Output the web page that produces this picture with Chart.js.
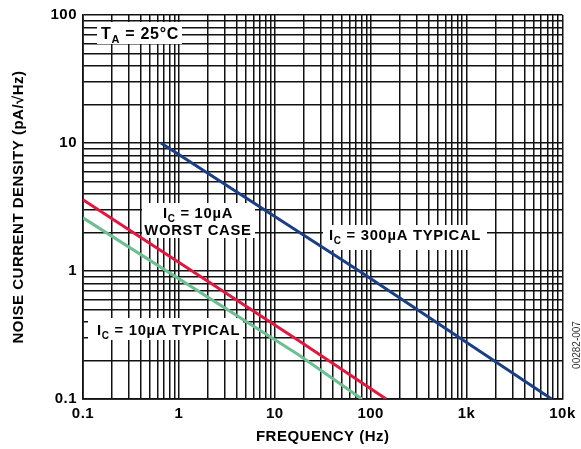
<!DOCTYPE html>
<html>
<head>
<meta charset="utf-8">
<script src="https://cdn.jsdelivr.net/npm/chart.js@4/dist/chart.umd.min.js"></script>
<style>
  html, body { margin: 0; padding: 0; background: #fff; }
  #wrap { width: 581px; height: 449px; }
</style>
</head>
<body>
<div id="wrap"><canvas id="myChart" width="581" height="449"></canvas></div>
<script>
// valores (frecuencia en Hz, densidad en pA/rtHz)
var blueX = [0.65, 76, 7700];
var blueY = [10, 1, 0.1];
var redX = [0.1, 18, 145];
var redY = [3.6, 0.284, 0.1];
var greenX = [0.1, 18, 81];
var greenY = [2.6, 0.22, 0.1];

var xTickValues = [0.1, 1, 10, 100, 1000, 10000];
var xTickLabels = ['0.1', '1', '10', '100', '1k', '10k'];
var yTickValues = [0.1, 1, 10, 100];
var yTickLabels = ['0.1', '1', '10', '100'];
var gridSteps = [1, 2, 3, 4, 5, 6, 7, 8, 9];

var FONT = "'Liberation Sans', Arial, sans-serif";

function toPoints(xs, ys) {
    return xs.map(function (x, i) { return { x: x, y: ys[i] }; });
}

// lineas de rejilla 1..9 en cada decada
function buildTicks(min, max) {
    var out = [];
    var e0 = Math.round(Math.log10(min));
    var e1 = Math.round(Math.log10(max));
    for (var e = e0; e < e1; e++) {
        gridSteps.forEach(function (m) {
            out.push({ value: Number((m * Math.pow(10, e)).toPrecision(6)) });
        });
    }
    out.push({ value: max });
    return out;
}

function labelFor(v, values, labels) {
    for (var i = 0; i < values.length; i++) {
        if (Math.abs(Math.log10(v) - Math.log10(values[i])) < 1e-6) return labels[i];
    }
    return '';
}

// texto con subindice, p.ej. I + C
function drawRich(ctx, parts, x, y, align, size) {
    var subSize = Math.round(size * 0.7);
    var widths = parts.map(function (p) {
        ctx.font = 'bold ' + (p.sub ? subSize : size) + 'px ' + FONT;
        return ctx.measureText(p.t).width;
    });
    var total = widths.reduce(function (a, b) { return a + b; }, 0);
    var cx = align === 'center' ? x - total / 2 : x;
    parts.forEach(function (p, i) {
        ctx.font = 'bold ' + (p.sub ? subSize : size) + 'px ' + FONT;
        ctx.fillText(p.t, cx, p.sub ? y + 4 : y);
        cx += widths[i];
    });
}

var etiquetas = {
    id: 'etiquetas',
    beforeDraw: function (chart) {
        chart.ctx.letterSpacing = '0.5px';
    },
    beforeDatasetsDraw: function (chart) {
        var ctx = chart.ctx;
        ctx.save();
        ctx.fillStyle = '#fff';
        ctx.fillRect(97, 22, 85, 22);
        ctx.fillRect(142, 203, 113, 35);
        ctx.fillRect(88, 318, 155, 22);
        ctx.fillRect(323, 225, 164, 25);

        ctx.fillStyle = '#000';
        ctx.textBaseline = 'alphabetic';
        ctx.textAlign = 'left';
        ctx.letterSpacing = '0.7px';
        drawRich(ctx, [{ t: 'T' }, { t: 'A', sub: true }, { t: ' = 25°C' }], 101, 39, 'left', 16);
        drawRich(ctx, [{ t: 'I' }, { t: 'C', sub: true }, { t: ' = 10µA' }], 198, 218, 'center', 14.8);
        drawRich(ctx, [{ t: 'WORST CASE' }], 198, 235, 'center', 14.8);
        drawRich(ctx, [{ t: 'I' }, { t: 'C', sub: true }, { t: ' = 10µA TYPICAL' }], 97, 335, 'left', 14.8);
        drawRich(ctx, [{ t: 'I' }, { t: 'C', sub: true }, { t: ' = 300µA TYPICAL' }], 329, 240, 'left', 14.8);
        ctx.restore();
    },
    afterDraw: function (chart) {
        var ctx = chart.ctx;
        ctx.save();
        ctx.letterSpacing = '0px';
        ctx.translate(577, 345);
        ctx.rotate(-Math.PI / 2);
        ctx.font = '10px ' + FONT;
        ctx.fillStyle = '#333';
        ctx.textAlign = 'center';
        ctx.textBaseline = 'middle';
        ctx.fillText('00282-007', 0, 0);
        ctx.restore();
    }
};

var gridCfg = { color: '#111', lineWidth: 1.5, drawTicks: false };
var borderCfg = { color: '#111', width: 1.7 };
var tickFont = { family: FONT, size: 15, weight: 'bold' };
var titleFont = { family: FONT, size: 15, weight: 'bold' };

var ctx = document.getElementById('myChart').getContext('2d');
var myChart = new Chart(ctx, {
    type: 'line',
    data: {
        datasets: [
            { label: 'IC = 300µA TYPICAL', data: toPoints(blueX, blueY), borderColor: '#1b3f87', borderWidth: 3, pointRadius: 0, tension: 0 },
            { label: 'IC = 10µA WORST CASE', data: toPoints(redX, redY), borderColor: '#e3173e', borderWidth: 3, pointRadius: 0, tension: 0 },
            { label: 'IC = 10µA TYPICAL', data: toPoints(greenX, greenY), borderColor: '#6cbf8f', borderWidth: 3, pointRadius: 0, tension: 0 }
        ]
    },
    options: {
        responsive: false,
        animation: false,
        devicePixelRatio: 1,
        layout: { padding: { top: 15, right: 17, left: 0, bottom: 0 } },
        plugins: {
            legend: { display: false },
            tooltip: { enabled: false }
        },
        scales: {
            x: {
                type: 'logarithmic',
                min: 0.1,
                max: 10000,
                afterBuildTicks: function (s) { s.ticks = buildTicks(0.1, 10000); },
                afterFit: function (s) { s.height = 50; },
                grid: gridCfg,
                border: borderCfg,
                ticks: {
                    autoSkip: false, maxRotation: 0, padding: 6, color: '#000', font: tickFont,
                    callback: function (v) { return labelFor(v, xTickValues, xTickLabels); }
                },
                title: { display: true, text: 'FREQUENCY (Hz)', color: '#000', font: titleFont, padding: { top: 0, bottom: 3 } }
            },
            y: {
                type: 'logarithmic',
                min: 0.1,
                max: 100,
                afterBuildTicks: function (s) { s.ticks = buildTicks(0.1, 100); },
                afterFit: function (s) { s.width = 83; },
                grid: gridCfg,
                border: borderCfg,
                ticks: {
                    autoSkip: false, padding: 6, color: '#000', font: tickFont,
                    callback: function (v) { return labelFor(v, yTickValues, yTickLabels); }
                },
                title: { display: true, text: 'NOISE CURRENT DENSITY (pA/√Hz)', color: '#000', font: titleFont, padding: { top: 10, bottom: 0 } }
            }
        }
    },
    plugins: [etiquetas]
});
</script>
</body>
</html>
